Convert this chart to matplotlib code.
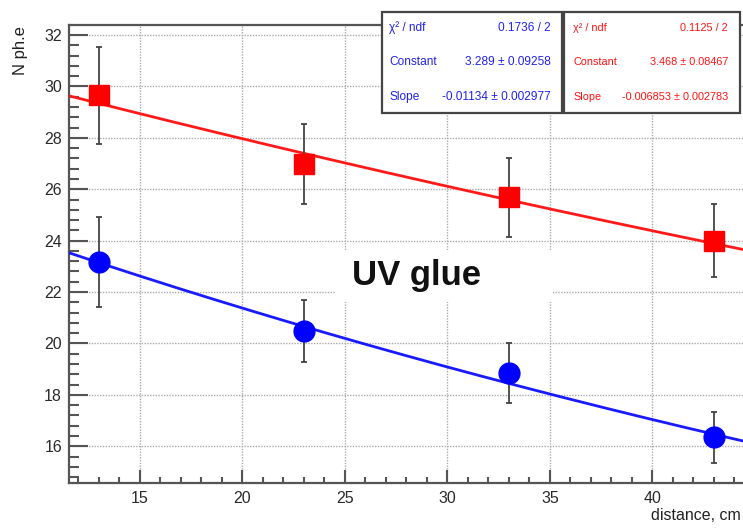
import numpy as np
import matplotlib
matplotlib.use("Agg")
import matplotlib.pyplot as plt
from matplotlib.patches import Rectangle
from matplotlib.ticker import MultipleLocator

plt.rcParams['font.family'] = ['Liberation Sans', 'DejaVu Sans']

# ---- data ----
distance = [13, 23, 33, 43]
red_vals = [29.65, 26.98, 25.68, 24.00]
red_errs = [1.90, 1.57, 1.52, 1.42]
blue_vals = [23.16, 20.49, 18.85, 16.35]
blue_errs = [1.75, 1.20, 1.15, 0.99]

# exponential fit parameters (from stat boxes): y = exp(const + slope*x)
blue_const, blue_slope = 3.289, -0.01134
red_const, red_slope = 3.468, -0.006853

blue_stats = [("χ² / ndf", "0.1736 / 2"),
              ("Constant", "3.289 ± 0.09258"),
              ("Slope", "-0.01134 ± 0.002977")]
red_stats = [("χ² / ndf", "0.1125 / 2"),
             ("Constant", "3.468 ± 0.08467"),
             ("Slope", "-0.006853 ± 0.002783")]

x_ticks = [15, 20, 25, 30, 35, 40]
y_ticks = [16, 18, 20, 22, 24, 26, 28, 30, 32]

W, H = 743, 528
def fx(px):
    return px / W
def fy(py):
    return 1 - py / H

fig = plt.figure(figsize=(W / 100, H / 100), dpi=100)
xmin, xmax = 11.54, 45.0
ymin, ymax = 14.57, 32.39
ax = fig.add_axes([fx(69), fy(483), (xmax - xmin) * 20.5 / W, (483 - 25) / H])
ax.set_xlim(xmin, xmax)
ax.set_ylim(ymin, ymax)

axcol = '#555555'
for s in ['left', 'bottom', 'top']:
    ax.spines[s].set_color(axcol)
    ax.spines[s].set_linewidth(1.6)
ax.spines['right'].set_visible(False)

ax.set_xticks(x_ticks)
ax.set_yticks(y_ticks)
ax.xaxis.set_minor_locator(MultipleLocator(1))
ax.yaxis.set_minor_locator(MultipleLocator(0.4))
ax.tick_params(axis='y', which='major', direction='in', length=14, width=1.5,
               color=axcol, labelsize=11.5, labelcolor='#2a2a2a', pad=5)
ax.tick_params(axis='y', which='minor', direction='in', length=7, width=1.5, color=axcol)
ax.tick_params(axis='x', which='major', direction='in', length=9.5, width=1.5,
               color=axcol, labelsize=11.5, labelcolor='#2a2a2a', pad=6)
ax.tick_params(axis='x', which='minor', direction='in', length=4.5, width=1.5, color=axcol)
ax.set_axisbelow(True)
ax.grid(True, which='major', color='#aaaaaa', linestyle=(0, (1, 1)), linewidth=1.0)

# fit curves
xf = np.linspace(xmin, xmax, 200)
ax.plot(xf, np.exp(red_const + red_slope * xf), color='#ff1a1a', lw=2.0, zorder=3)
ax.plot(xf, np.exp(blue_const + blue_slope * xf), color='#1a1aff', lw=2.0, zorder=3)

# data points
ax.errorbar(distance, red_vals, yerr=red_errs, fmt='none', ecolor='#444444',
            elinewidth=1.3, capsize=2.5, capthick=1.3, zorder=4)
ax.errorbar(distance, blue_vals, yerr=blue_errs, fmt='none', ecolor='#444444',
            elinewidth=1.3, capsize=2.5, capthick=1.3, zorder=4)
ax.plot(distance, red_vals, 's', color='#ff0000', markersize=14, mec='#ff0000', zorder=5)
ax.plot(distance, blue_vals, 'o', color='#0000ff', markersize=15, mec='#0000ff', zorder=5)

# UV glue label with white patch
ax.add_patch(Rectangle((fx(335), fy(302)), fx(553) - fx(335), fy(250) - fy(302),
                       transform=fig.transFigure, facecolor='white', edgecolor='none', zorder=1))
fig.text(fx(417), fy(276), "UV glue", fontsize=25, fontweight='bold', color='#111111',
         ha='center', va='center', zorder=10)

# axis titles
fig.text(fx(20), fy(26), "N ph.e", rotation=90, fontsize=12, color='#222222',
         ha='center', va='top')
fig.text(fx(741), fy(515), "distance, cm", fontsize=11.5, color='#222222',
         ha='right', va='center')

# stat boxes
def stat_box(x0, x1, y0, y1, rows, color, lab_x, val_x, fs):
    fig.add_artist(Rectangle((fx(x0), fy(y1)), fx(x1) - fx(x0), fy(y0) - fy(y1),
                             transform=fig.transFigure, facecolor='white',
                             edgecolor='#444444', linewidth=1.6, zorder=20))
    for (lab, val), py in zip(rows, [28, 62, 97]):
        fig.text(fx(lab_x), fy(py), lab, color=color, fontsize=fs, ha='left', va='center', zorder=21)
        fig.text(fx(val_x), fy(py), val, color=color, fontsize=fs, ha='right', va='center', zorder=21)

stat_box(382, 562, 12, 113, blue_stats, '#2222ee', 389, 551, 8.6)
stat_box(564, 740, 12, 113, red_stats, '#ff1111', 573, 728, 7.8)

fig.savefig("out.png", dpi=100)
